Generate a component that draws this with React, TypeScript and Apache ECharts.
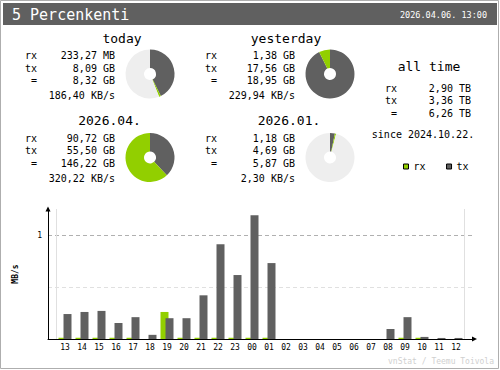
import React, { useEffect, useRef } from 'react';
import * as echarts from 'echarts';

// ---- data ----
const title = '5 Percenkenti';
const dateStamp = '2026.04.06. 13:00';
const footer = 'vnStat / Teemu Toivola';

const hours = ['13', '14', '15', '16', '17', '18', '19', '20', '21', '22', '23', '00', '01', '02', '03', '04', '05', '06', '07', '08', '09', '10', '11', '12'];
const rxRate = [0.012, 0.012, 0.012, 0.012, 0.012, 0, 0.26, 0.012, 0.012, 0.012, 0.012, 0.012, 0.012, 0, 0, 0, 0, 0, 0, 0, 0.012, 0.012, 0, 0];
const txRate = [0.24, 0.26, 0.27, 0.154, 0.21, 0.04, 0.2, 0.2, 0.42, 0.91, 0.615, 1.19, 0.73, 0, 0, 0, 0, 0, 0, 0.096, 0.21, 0.02, 0.01, 0.01];
const yTickLabels = ['1'];

const periodTitles = ['today', 'yesterday', '2026.04.', '2026.01.'];
const rxTexts = ['233,27 MB', '1,38 GB', '90,72 GB', '1,18 GB'];
const txTexts = ['8,09 GB', '17,56 GB', '55,50 GB', '4,69 GB'];
const totalTexts = ['8,32 GB', '18,95 GB', '146,22 GB', '5,87 GB'];
const rateTexts = ['186,40 KB/s', '229,94 KB/s', '320,22 KB/s', '2,30 KB/s'];
const rxGB = [0.23327, 1.38, 90.72, 1.18];
const txGB = [8.09, 17.56, 55.5, 4.69];

const allTimeTitle = 'all time';
const allTimeTexts = ['2,90 TB', '3,36 TB', '6,26 TB'];
const sinceText = 'since 2024.10.22.';

const rowLabels = ['rx', 'tx', ' ='];

// ---- layout ----
const mono = '"DejaVu Sans Mono", monospace';
const RX = '#92CF00';
const TX = '#606060';
const blocks = [
  { lx: 25, vx: 115, tx: 122, ty: 38, ry: 55.5, cx: 150, cy: 74 },
  { lx: 205, vx: 295, tx: 286, ty: 38, ry: 55.5, cx: 330, cy: 74 },
  { lx: 25, vx: 115, tx: 109.5, ty: 120.5, ry: 138, cx: 150, cy: 157.5 },
  { lx: 205, vx: 295, tx: 289, ty: 120.5, ry: 138, cx: 330, cy: 157.5 },
];
const rowOffsets = [0, 12.7, 25.2, 40.3];

function txt(text: string, x: number, y: number, size: number, align: string, color = '#000', weight = 'normal') {
  return {
    type: 'text',
    x,
    y,
    silent: true,
    style: { text, fill: color, fontSize: size, fontFamily: mono, fontWeight: weight, align, verticalAlign: 'middle' },
  };
}

export default function App() {
  const ref = useRef<HTMLDivElement>(null);
  useEffect(() => {
    document.body.style.margin = '0';
    const chart = echarts.init(ref.current!, null, { renderer: 'svg' });

    const graphics: any[] = [
      { type: 'rect', shape: { x: 0.5, y: 0.5, width: 498, height: 368 }, style: { fill: 'none', stroke: '#AEAEAE', lineWidth: 1 }, silent: true },
      { type: 'rect', shape: { x: 3, y: 3, width: 494, height: 22 }, style: { fill: '#606060' }, silent: true },
      txt(title, 12, 14.5, 15, 'left', '#FFFFFF'),
      txt(dateStamp, 487, 14.5, 8.5, 'right', '#FFFFFF'),
      txt(footer, 494, 361, 8, 'right', '#D0D0D0'),
    ];

    blocks.forEach((b, i) => {
      graphics.push(txt(periodTitles[i], b.tx, b.ty, 13, 'center'));
      const vals = [rxTexts[i], txTexts[i], totalTexts[i]];
      for (let r = 0; r < 3; r++) {
        graphics.push(txt(rowLabels[r], b.lx, b.ry + rowOffsets[r], 10, 'left'));
        graphics.push(txt(vals[r], b.vx, b.ry + rowOffsets[r], 10, 'right'));
      }
      graphics.push(txt(rateTexts[i], b.vx, b.ry + rowOffsets[3], 10, 'right'));
    });

    graphics.push(txt(allTimeTitle, 429, 66, 13, 'center'));
    const allY = [88, 100.5, 113];
    for (let r = 0; r < 3; r++) {
      graphics.push(txt(rowLabels[r], 385, allY[r], 10, 'left'));
      graphics.push(txt(allTimeTexts[r], 471, allY[r], 10, 'right'));
    }
    graphics.push(txt(sinceText, 423, 134.5, 10, 'center'));

    const pieSeries = blocks.map((b, i) => {
      const pair = i < 2 ? [0, 1] : [2, 3];
      const max = Math.max(...pair.map((k) => rxGB[k] + txGB[k]));
      const total = rxGB[i] + txGB[i];
      return {
        type: 'pie',
        center: [b.cx, b.cy],
        radius: [6, 24.5],
        startAngle: 90,
        clockwise: true,
        silent: true,
        label: { show: false },
        labelLine: { show: false },
        emphasis: { disabled: true },
        data: [
          { value: txGB[i], itemStyle: { color: TX } },
          { value: rxGB[i], itemStyle: { color: RX } },
          { value: max - total, itemStyle: { color: '#EEEEEE' } },
        ],
      };
    });

    const option: any = {
      animation: false,
      backgroundColor: '#FFFFFF',
      textStyle: { fontFamily: mono },
      grid: [
        { left: 48, right: 25.5, top: 209, bottom: 31 },
        { left: 56.5, right: 35.5, top: 209, bottom: 31 },
      ],
      legend: {
        data: ['rx', 'tx'],
        left: 398,
        top: 156.5,
        itemWidth: 5,
        itemHeight: 5,
        itemGap: 20.5,
        icon: 'rect',
        selectedMode: false,
        itemStyle: { borderColor: '#000', borderWidth: 1 },
        textStyle: { fontSize: 10, fontFamily: mono, color: '#000' },
      },
      xAxis: [
        {
          gridIndex: 0,
          type: 'value',
          min: 0,
          max: 1,
          axisLine: { show: true, onZero: false, symbol: ['none', 'triangle'], symbolSize: [5, 5], lineStyle: { color: '#000', width: 1 } },
          axisTick: { show: false },
          axisLabel: { show: false },
          splitLine: { show: false },
        },
        {
          gridIndex: 1,
          type: 'category',
          data: hours,
          axisLine: { show: false },
          axisTick: { show: false },
          axisLabel: { fontSize: 8, fontFamily: mono, color: '#000', margin: 4, interval: 0 },
          splitLine: { show: true, interval: (i: number) => i === 11, lineStyle: { color: '#E0E0E0', width: 1 } },
        },
      ],
      yAxis: [
        {
          gridIndex: 0,
          type: 'value',
          min: 0,
          max: 1.25,
          interval: 0.5,
          name: 'MB/s',
          nameLocation: 'middle',
          nameRotate: 90,
          nameGap: 29,
          nameTextStyle: { fontSize: 8, fontWeight: 'bold', fontFamily: mono, color: '#000' },
          axisLine: { show: true, onZero: false, symbol: ['none', 'triangle'], symbolSize: [5, 5], lineStyle: { color: '#000', width: 1 } },
          axisTick: { show: false },
          axisLabel: {
            fontSize: 8,
            fontFamily: mono,
            color: '#000',
            margin: 6,
            formatter: (v: number) => (yTickLabels.includes(String(v)) ? String(v) : ''),
          },
          splitLine: { show: true, showMinLine: false, showMaxLine: false, lineStyle: { color: ['#E0E0E0', '#B0B0B0'], type: [4, 3], width: 1 } },
        },
        { gridIndex: 1, type: 'value', min: 0, max: 1.25, show: false },
      ],
      series: [
        { name: 'rx', type: 'bar', xAxisIndex: 1, yAxisIndex: 1, data: rxRate, barWidth: 8, barGap: '-37.5%', itemStyle: { color: RX }, silent: true },
        { name: 'tx', type: 'bar', xAxisIndex: 1, yAxisIndex: 1, data: txRate, barWidth: 8, barGap: '-37.5%', itemStyle: { color: TX }, silent: true },
        ...pieSeries,
      ],
      graphic: graphics,
    };
    chart.setOption(option);
    return () => chart.dispose();
  }, []);
  return <div ref={ref} style={{ width: 500, height: 370 }} />;
}
